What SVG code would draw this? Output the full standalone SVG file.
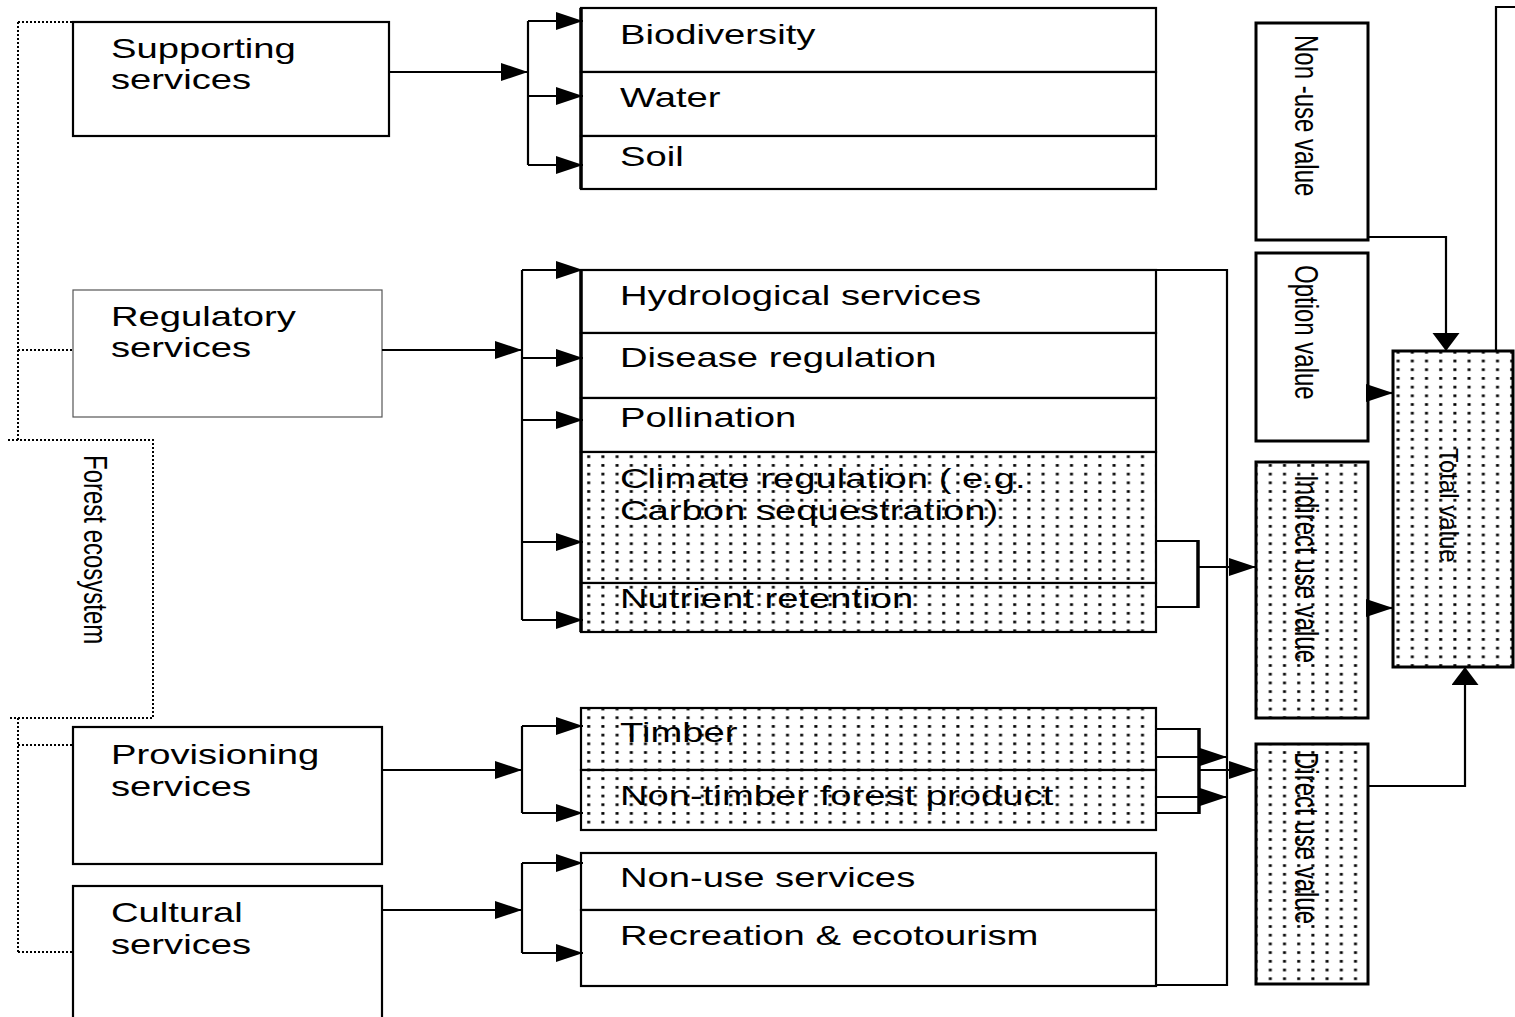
<svg xmlns="http://www.w3.org/2000/svg" width="1515" height="1017" viewBox="0 0 1515 1017">
<defs>
<style>
.t{font-family:"Liberation Sans",Arial,sans-serif;font-size:28px;fill:#000}
.tv{font-family:"Liberation Sans",Arial,sans-serif;font-size:24px;fill:#000}
.box{fill:#fff;stroke:#000;stroke-width:2.2}
.dbox{fill:url(#dots);stroke:#000;stroke-width:2.2}
.vbox{fill:#fff;stroke:#000;stroke-width:3}
.vdbox{fill:url(#dots);stroke:#000;stroke-width:3}
.ln{fill:none;stroke:#000;stroke-width:2.2}
.arr{fill:none;stroke:#000;stroke-width:2.2;marker-end:url(#ah)}
.arrv{fill:none;stroke:#000;stroke-width:2.2;marker-end:url(#av)}
.dot{fill:none;stroke:#000;stroke-width:2;stroke-dasharray:2 2}
</style>
<pattern id="dots" patternUnits="userSpaceOnUse" width="14.2" height="8.7">
<rect width="14.2" height="8.7" fill="#fff"/>
<rect x="5" y="3" width="3" height="2.6" fill="#000"/>
</pattern>
<marker id="ah" markerUnits="userSpaceOnUse" markerWidth="29" markerHeight="19" refX="27" refY="9" orient="auto">
<path d="M0,0 L27,9 L0,18 z" fill="#000"/>
</marker>
<marker id="av" markerUnits="userSpaceOnUse" markerWidth="19" markerHeight="29" refX="18" refY="13.5" orient="auto">
<path d="M0,0 L18,13.5 L0,27 z" fill="#000"/>
</marker>
</defs>
<rect width="1515" height="1017" fill="#fff"/>

<g id="forest-ecosystem">
<path class="dot" d="M18,22 V440 M18,22 H73 M18,350 H73 M8,440 H153 V718 H8 M18,718 V952 M18,745 H73 M18,952 H73"/>
<text class="tv" transform="translate(84,455) scale(1.35,1) rotate(90)">Forest ecosystem</text>
</g>

<g id="supporting-services">
<rect class="box" x="73" y="22" width="316" height="114"/>
<text class="t" transform="translate(111,58) scale(1.365,1)">Supporting</text>
<text class="t" transform="translate(111,89) scale(1.365,1)">services</text>
</g>
<g id="regulatory-services">
<rect x="73" y="290" width="309" height="127" fill="#fff" stroke="#555" stroke-width="1.2"/>
<text class="t" transform="translate(111,326) scale(1.365,1)">Regulatory</text>
<text class="t" transform="translate(111,357) scale(1.365,1)">services</text>
</g>
<g id="provisioning-services">
<rect class="box" x="73" y="727" width="309" height="137"/>
<text class="t" transform="translate(111,764) scale(1.365,1)">Provisioning</text>
<text class="t" transform="translate(111,796) scale(1.365,1)">services</text>
</g>
<g id="cultural-services">
<rect class="box" x="73" y="886" width="309" height="150"/>
<text class="t" transform="translate(111,922) scale(1.365,1)">Cultural</text>
<text class="t" transform="translate(111,954) scale(1.365,1)">services</text>
</g>

<g id="supporting-list">
<rect class="box" x="581" y="8" width="575" height="64"/>
<text class="t" transform="translate(620,44) scale(1.365,1)">Biodiversity</text>
<rect class="box" x="581" y="72" width="575" height="64"/>
<text class="t" transform="translate(620,107) scale(1.365,1)">Water</text>
<rect class="box" x="581" y="136" width="575" height="53"/>
<text class="t" transform="translate(620,166) scale(1.365,1)">Soil</text>
<path d="M581,8 V189" stroke="#000" stroke-width="3.5"/>
</g>

<g id="regulatory-list">
<rect class="box" x="581" y="270" width="575" height="63"/>
<text class="t" transform="translate(620,305) scale(1.365,1)">Hydrological services</text>
<rect class="box" x="581" y="333" width="575" height="65"/>
<text class="t" transform="translate(620,367) scale(1.365,1)">Disease regulation</text>
<rect class="box" x="581" y="398" width="575" height="54"/>
<text class="t" transform="translate(620,427) scale(1.365,1)">Pollination</text>
<rect class="dbox" x="581" y="452" width="575" height="131"/>
<text class="t" transform="translate(620,488) scale(1.365,1)">Climate regulation ( e.g.</text>
<text class="t" transform="translate(620,520) scale(1.365,1)">Carbon sequestration)</text>
<rect class="dbox" x="581" y="583" width="575" height="49"/>
<text class="t" transform="translate(620,608) scale(1.365,1)">Nutrient retention</text>
<path d="M581,270 V632" stroke="#000" stroke-width="3.5"/>
</g>

<g id="provisioning-list">
<rect class="dbox" x="581" y="708" width="575" height="62"/>
<text class="t" transform="translate(620,742) scale(1.365,1)">Timber</text>
<rect class="dbox" x="581" y="770" width="575" height="60"/>
<text class="t" transform="translate(620,805) scale(1.365,1)">Non-timber forest product</text>
</g>

<g id="cultural-list">
<rect class="box" x="581" y="853" width="575" height="57"/>
<text class="t" transform="translate(620,887) scale(1.365,1)">Non-use services</text>
<rect class="box" x="581" y="910" width="575" height="76"/>
<text class="t" transform="translate(620,945) scale(1.365,1)">Recreation &amp; ecotourism</text>
</g>

<g id="non-use-value">
<rect class="vbox" x="1256" y="23" width="112" height="217"/>
<text class="tv" transform="translate(1295,35) scale(1.35,1) rotate(90)">Non -use value</text>
</g>
<g id="option-value">
<rect class="vbox" x="1256" y="253" width="112" height="188"/>
<text class="tv" transform="translate(1295,265) scale(1.35,1) rotate(90)">Option value</text>
</g>
<g id="indirect-use-value">
<rect class="vdbox" x="1256" y="462" width="112" height="256"/>
<text class="tv" transform="translate(1295,475) scale(1.35,1) rotate(90)">Indirect use value</text>
</g>
<g id="direct-use-value">
<rect class="vdbox" x="1256" y="744" width="112" height="240"/>
<text class="tv" transform="translate(1295,752) scale(1.35,1) rotate(90)">Direct use value</text>
</g>
<g id="total-value">
<rect class="vdbox" x="1393" y="351" width="120" height="316"/>
<text class="tv" transform="translate(1440,448) scale(1.1,1) rotate(90)">Total value</text>
</g>

<g id="connectors">
<path class="arr" d="M389,72 H528"/>
<path class="ln" d="M528,21 V165"/>
<path class="arr" d="M528,21 H583"/>
<path class="arr" d="M528,96 H583"/>
<path class="arr" d="M528,165 H583"/>

<path class="arr" d="M382,350 H522"/>
<path class="ln" d="M522,270 V620"/>
<path class="arr" d="M522,270 H583"/>
<path class="arr" d="M522,358 H583"/>
<path class="arr" d="M522,420 H583"/>
<path class="arr" d="M522,542 H583"/>
<path class="arr" d="M522,620 H583"/>

<path class="arr" d="M382,770 H522"/>
<path class="ln" d="M522,726 V813"/>
<path class="arr" d="M522,726 H583"/>
<path class="arr" d="M522,813 H583"/>

<path class="arr" d="M382,910 H522"/>
<path class="ln" d="M522,863 V953"/>
<path class="arr" d="M522,863 H583"/>
<path class="arr" d="M522,953 H583"/>

<path class="ln" d="M1156,270 H1227 V985 H1156"/>
<path class="ln" d="M1156,541 H1198 M1156,607 H1198"/>
<path d="M1198,540 V608" stroke="#000" stroke-width="3.5"/>
<path class="arr" d="M1198,567 H1256"/>

<path class="ln" d="M1156,729 H1199 M1156,813 H1199"/>
<path d="M1199,728 V814" stroke="#000" stroke-width="3.5"/>
<path class="arr" d="M1156,757 H1227"/>
<path class="arr" d="M1156,797 H1227"/>
<path class="arr" d="M1199,770 H1256"/>

<path class="arrv" d="M1368,237 H1446 V351"/>
<path class="arr" d="M1368,393 H1393"/>
<path class="arr" d="M1368,608 H1393"/>
<path class="arrv" d="M1368,786 H1465 V667"/>
<path class="ln" d="M1496,351 V7 H1515"/>
</g>
</svg>
